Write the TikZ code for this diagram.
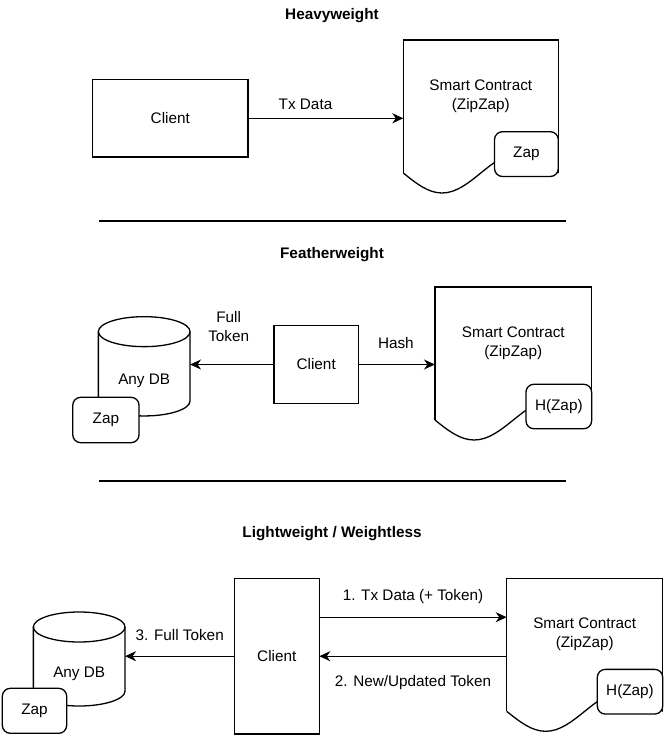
\documentclass[tikz,border=0pt]{standalone}
\usepackage{fontspec}
\setmainfont{Liberation Sans}
\usetikzlibrary{arrows.meta,positioning,calc}

% outline of a document node: wavy bottom below the text area
\newcommand{\docoutline}[1]{%
  \draw[line] ([yshift=-21pt]#1.south west) -- (#1.north west) -- (#1.north east) -- ([yshift=-21pt]#1.south east);
  \draw[line] ([yshift=-21pt]#1.south west)
    sin ([yshift=-41pt]$(#1.south west)!.25!(#1.south east)$)
    cos ([yshift=-21pt]#1.south)
    sin ([yshift=-1pt]$(#1.south west)!.75!(#1.south east)$)
    cos ([yshift=-21pt]#1.south east);
}
% outline of a database node (node = body below the top ellipse)
\newcommand{\dboutline}[2]{%
  \draw[line] ([yshift=15pt]#1.north west) -- ([yshift=15pt]#1.south west)
    arc[start angle=180,end angle=360,x radius=#2,y radius=15pt] -- ([yshift=15pt]#1.north east);
  \draw[line] ([yshift=15pt]#1.north) ellipse[x radius=#2,y radius=15pt];
}

\begin{document}
\begin{tikzpicture}[x=1pt,y=-1pt,
  font=\fontsize{15.3}{19}\selectfont,
  line/.style={line width=1.3pt},
  block/.style={rectangle,draw,line width=1.3pt,outer sep=0pt,inner sep=0pt,align=center},
  tag/.style={block,rounded corners=8pt,fill=white},
  docarea/.style={rectangle,outer sep=0pt,inner sep=0pt,align=center},
  lbl/.style={align=center,inner sep=0pt},
  heading/.style={font=\fontsize{15.3}{19}\selectfont\bfseries},
  arr/.style={-{Stealth[length=11pt,width=10pt,inset=3.5pt]},line width=1.3pt}
]
\useasboundingbox (0,0) rectangle (665,735);

% Heavyweight
\node[heading] (head1) at (332,16) {Heavyweight};
\node[block,minimum width=155.5pt,minimum height=77.5pt] (cl1) at (170.3,118.3) {Client};
\node[docarea,minimum width=155pt,minimum height=112pt] (sc1) at (480.8,96) {Smart Contract\\(ZipZap)};
\docoutline{sc1}
\node[tag,minimum width=63.8pt,minimum height=44.8pt] (zap1) at (526.4,154.1) {Zap};
\draw[arr] (cl1) -- (cl1 -| sc1.west) node[lbl,pos=.37,yshift=14pt] {Tx Data};
\draw[line] (99,221) -- (566,221);

% Featherweight
\node[heading] (head2) at (332,255) {Featherweight};
\node[block,minimum width=84.3pt,minimum height=77.6pt] (cl2) at (316.2,364.5) {Client};
\node[docarea,minimum width=156.7pt,minimum height=112pt] (sc2) at (513.3,343) {Smart Contract\\(ZipZap)};
\docoutline{sc2}
\node[tag,minimum width=65.7pt,minimum height=44.5pt] (hzap2) at (558.8,406.5) {H(Zap)};
\node[docarea,minimum width=91.7pt,minimum height=69.3pt] (db2) at (144.2,381.3) {Any DB};
\dboutline{db2}{45.85pt}
\node[tag,minimum width=66.3pt,minimum height=45.4pt] (zap2) at (105.9,420) {Zap};
\draw[arr] (cl2) -- (cl2 -| db2.east) node[lbl,pos=.54,yshift=38pt] {Full\\Token};
\draw[arr] (cl2) -- (cl2 -| sc2.west) node[lbl,pos=.49,yshift=21pt] {Hash};
\draw[line] (99,481) -- (566,481);

% Lightweight / Weightless
\node[heading] (head3) at (332,533.3) {Lightweight / Weightless};
\node[block,minimum width=85pt,minimum height=155.7pt] (cl3) at (276.8,656.2) {Client};
\node[docarea,minimum width=156pt,minimum height=112pt] (sc3) at (584.7,634.3) {Smart Contract\\(ZipZap)};
\docoutline{sc3}
\node[tag,minimum width=65.4pt,minimum height=44.7pt] (hzap3) at (630,691.7) {H(Zap)};
\node[docarea,minimum width=91.7pt,minimum height=64pt] (db3) at (79.2,674) {Any DB};
\dboutline{db3}{45.85pt}
\node[tag,minimum width=64.4pt,minimum height=45pt] (zap3) at (34.5,710.8) {Zap};
\coordinate (tx3) at ([yshift=39pt]cl3.east);
\draw[arr] (tx3) -- (tx3 -| sc3.west) node[lbl,pos=.5,yshift=20.6pt] {1. Tx Data (+ Token)};
\draw[arr] (cl3 -| sc3.west) -- (cl3) node[lbl,pos=.5,yshift=-26.7pt] {2. New/Updated Token};
\draw[arr] (cl3) -- (cl3 -| db3.east) node[lbl,pos=.5,yshift=21pt] {3. Full Token};
\end{tikzpicture}
\end{document}
